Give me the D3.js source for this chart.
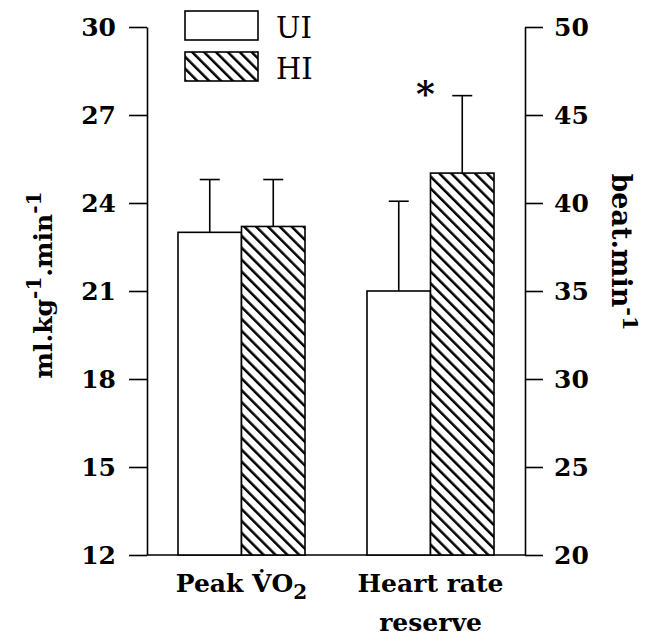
<!DOCTYPE html>
<html>
<head>
<meta charset="utf-8">
<script src="https://cdn.jsdelivr.net/npm/d3@7"></script>
<style>
  body { margin: 0; background: #fff; }
  svg text { font-family: "DejaVu Serif", "Liberation Serif", serif; fill: #000; }
  .axis path, .axis line { stroke: #000; stroke-width: 1.6; }
  .axis text { font-size: 25px; font-weight: bold; }
</style>
</head>
<body>
<div id="chart"></div>
<script>
var categories = ["Peak VO2", "Heart rate reserve"];
var groups = ["UI", "HI"];
var uiMeans = [23.0, 35.0];
var uiErr = [1.8, 5.1];
var hiMeans = [23.2, 41.7];
var hiErr = [1.6, 4.4];
var leftTicks = [12, 15, 18, 21, 24, 27, 30];
var rightTicks = [20, 25, 30, 35, 40, 45, 50];

var width = 652, height = 642;
var x0 = 147, x1 = 525, yTop = 27, yBase = 555;

var svg = d3.select("#chart").append("svg")
    .attr("width", width)
    .attr("height", height);

var defs = svg.append("defs");
var pat = defs.append("pattern")
    .attr("id", "hatch")
    .attr("patternUnits", "userSpaceOnUse")
    .attr("width", 8.4)
    .attr("height", 8.4)
    .attr("patternTransform", "rotate(-45)");
pat.append("rect").attr("width", 8.4).attr("height", 8.4).attr("fill", "#fff");
pat.append("line")
    .attr("x1", 0).attr("y1", 0).attr("x2", 0).attr("y2", 8.4)
    .attr("stroke", "#000").attr("stroke-width", 5);

var x = d3.scaleBand()
    .domain(categories)
    .range([x0, x1])
    .paddingInner(0.328)
    .paddingOuter(0.164);

var xs = d3.scaleBand().domain(groups).range([0, x.bandwidth()]);

var yL = d3.scaleLinear().domain([12, 30]).range([yBase, yTop]);
var yR = d3.scaleLinear().domain([20, 50]).range([yBase, yTop]);
var scales = [yL, yR]; // first category on left axis, second on right

// axes
svg.append("g")
    .attr("class", "axis")
    .attr("transform", "translate(" + x0 + ",0)")
    .call(d3.axisLeft(yL).tickValues(leftTicks).tickSize(18).tickSizeOuter(0).tickPadding(13));

svg.append("g")
    .attr("class", "axis")
    .attr("transform", "translate(" + x1 + ",0)")
    .call(d3.axisRight(yR).tickValues(rightTicks).tickSize(18).tickSizeOuter(0).tickPadding(11));

svg.append("line")
    .attr("x1", x0).attr("x2", x1)
    .attr("y1", yBase).attr("y2", yBase)
    .attr("stroke", "#000").attr("stroke-width", 1.6);

// bars
var rows = [];
categories.forEach(function(c, i) {
  rows.push({cat: c, g: "UI", v: uiMeans[i], e: uiErr[i], y: scales[i]});
  rows.push({cat: c, g: "HI", v: hiMeans[i], e: hiErr[i], y: scales[i]});
});

var bar = svg.selectAll("g.bar")
    .data(rows)
    .enter()
    .append("g")
    .attr("class", "bar")
    .attr("transform", function(d) { return "translate(" + (x(d.cat) + xs(d.g)) + ",0)"; });

bar.append("line")
    .attr("x1", xs.bandwidth() / 2).attr("x2", xs.bandwidth() / 2)
    .attr("y1", function(d) { return d.y(d.v); })
    .attr("y2", function(d) { return d.y(d.v + d.e); })
    .attr("stroke", "#000").attr("stroke-width", 1.6);

bar.append("line")
    .attr("x1", xs.bandwidth() / 2 - 10).attr("x2", xs.bandwidth() / 2 + 10)
    .attr("y1", function(d) { return d.y(d.v + d.e); })
    .attr("y2", function(d) { return d.y(d.v + d.e); })
    .attr("stroke", "#000").attr("stroke-width", 1.6);

bar.append("rect")
    .attr("y", function(d) { return d.y(d.v); })
    .attr("width", xs.bandwidth())
    .attr("height", function(d) { return yBase - d.y(d.v); })
    .attr("fill", function(d) { return d.g == "HI" ? "url(#hatch)" : "#fff"; })
    .attr("stroke", "#000").attr("stroke-width", 1.6);

// significance star
var hr = rows[3];
svg.append("text")
    .attr("x", x(hr.cat) + xs("UI") + xs.bandwidth() - 5)
    .attr("y", hr.y(hr.v + hr.e) + 10)
    .attr("text-anchor", "middle")
    .style("font-size", "36px")
    .style("font-weight", "bold")
    .text("*");

// legend
var legend = svg.append("g").attr("transform", "translate(185,11)");
groups.forEach(function(g, i) {
  legend.append("rect")
      .attr("y", i * 41)
      .attr("width", 73).attr("height", 29)
      .attr("fill", g == "HI" ? "url(#hatch)" : "#fff")
      .attr("stroke", "#000").attr("stroke-width", 1.6);
  legend.append("text")
      .attr("x", 91).attr("y", i * 41 + 27)
      .style("font-size", "29px")
      .text(g);
});

// x labels
var lab1 = svg.append("text")
    .attr("x", x(categories[0]) + x.bandwidth() / 2)
    .attr("y", 592)
    .attr("text-anchor", "middle")
    .style("font-size", "25px").style("font-weight", "bold");
lab1.append("tspan").text("Peak V\u0307O");
lab1.append("tspan").attr("dy", 7).style("font-size", "20px").text("2");

svg.append("text")
    .attr("x", x(categories[1]) + x.bandwidth() / 2)
    .attr("y", 592)
    .attr("text-anchor", "middle")
    .style("font-size", "25px").style("font-weight", "bold")
    .text("Heart rate");
svg.append("text")
    .attr("x", x(categories[1]) + x.bandwidth() / 2)
    .attr("y", 631)
    .attr("text-anchor", "middle")
    .style("font-size", "25px").style("font-weight", "bold")
    .text("reserve");

// y titles
var tl = svg.append("text")
    .attr("transform", "translate(52,285) rotate(-90)")
    .attr("text-anchor", "middle")
    .style("font-size", "25px").style("font-weight", "bold");
tl.append("tspan").text("ml.kg");
tl.append("tspan").attr("dy", -11).style("font-size", "20px").text("-1");
tl.append("tspan").attr("dy", 11).text(".min");
tl.append("tspan").attr("dy", -11).style("font-size", "20px").text("-1");

var tr = svg.append("text")
    .attr("transform", "translate(612,252) rotate(90)")
    .attr("text-anchor", "middle")
    .style("font-size", "27px").style("font-weight", "bold");
tr.append("tspan").text("beat.min");
tr.append("tspan").attr("dy", -11).style("font-size", "21px").text("-1");
</script>
</body>
</html>
